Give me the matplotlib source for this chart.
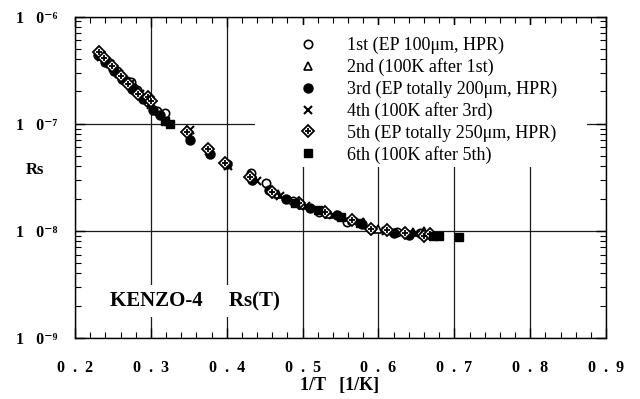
import math
import matplotlib
matplotlib.use("Agg")
import matplotlib.pyplot as plt
import matplotlib.ticker as mticker
from matplotlib.patches import Rectangle

plt.rcParams["font.family"] = ["Liberation Serif", "DejaVu Serif"]
plt.rcParams["mathtext.fontset"] = "stix"

# 1st (EP 100um, HPR)
x1 = [0.232, 0.243, 0.255, 0.268, 0.274, 0.282, 0.296, 0.308, 0.318, 0.432, 0.452, 0.487, 0.522, 0.558, 0.590, 0.625, 0.655]
rs1 = [4.6e-7, 3.8e-7, 3.1e-7, 2.5e-7, 2.45e-7, 2.05e-7, 1.6e-7, 1.3e-7, 1.25e-7, 3.5e-8, 2.8e-8, 1.9e-8, 1.5e-8, 1.21e-8, 1.05e-8, 9.8e-9, 9.5e-9]
# 2nd (100K after 1st)
x2 = [0.236, 0.250, 0.265, 0.280, 0.300, 0.349, 0.468, 0.500, 0.535, 0.565, 0.600, 0.645, 0.660]
rs2 = [4.3e-7, 3.4e-7, 2.7e-7, 2.15e-7, 1.55e-7, 8.6e-8, 2.2e-8, 1.75e-8, 1.45e-8, 1.25e-8, 1.05e-8, 9.8e-9, 1.0e-8]
# 3rd (EP totally 200um, HPR)
x3 = [0.230, 0.240, 0.252, 0.262, 0.275, 0.290, 0.303, 0.312, 0.352, 0.378, 0.400, 0.433, 0.456, 0.478, 0.510, 0.545, 0.578, 0.620, 0.640]
rs3 = [4.4e-7, 3.75e-7, 3.1e-7, 2.6e-7, 2.1e-7, 1.7e-7, 1.35e-7, 1.2e-7, 7.0e-8, 5.2e-8, 4.2e-8, 3.0e-8, 2.4e-8, 2.0e-8, 1.65e-8, 1.4e-8, 1.15e-8, 9.6e-9, 9.2e-9]
# 4th (100K after 3rd)
x4 = [0.234, 0.246, 0.258, 0.272, 0.286, 0.300, 0.351, 0.377, 0.402, 0.440, 0.470, 0.505, 0.540, 0.575, 0.610, 0.650]
rs4 = [4.2e-7, 3.6e-7, 2.9e-7, 2.35e-7, 1.9e-7, 1.5e-7, 8.8e-8, 5.6e-8, 4.0e-8, 2.9e-8, 2.1e-8, 1.7e-8, 1.42e-8, 1.2e-8, 1.0e-8, 9.4e-9]
# 5th (EP totally 250um, HPR)
x5 = [0.231, 0.238, 0.249, 0.260, 0.270, 0.283, 0.296, 0.300, 0.348, 0.375, 0.398, 0.430, 0.460, 0.495, 0.530, 0.565, 0.590, 0.611, 0.635, 0.660, 0.668]
rs5 = [4.7e-7, 4.1e-7, 3.45e-7, 2.8e-7, 2.35e-7, 1.9e-7, 1.78e-7, 1.62e-7, 8.4e-8, 5.8e-8, 4.3e-8, 3.2e-8, 2.3e-8, 1.8e-8, 1.5e-8, 1.25e-8, 1.05e-8, 1.02e-8, 9.5e-9, 9.0e-9, 9.4e-9]
# 6th (100K after 5th)
x6 = [0.318, 0.325, 0.490, 0.520, 0.550, 0.575, 0.672, 0.680, 0.706]
rs6 = [1.05e-7, 1.0e-7, 1.8e-8, 1.55e-8, 1.35e-8, 1.18e-8, 9.0e-9, 9.0e-9, 8.7e-9]

labels = ["1st (EP 100\u03bcm, HPR)", "2nd (100K after 1st)", "3rd (EP totally 200\u03bcm, HPR)",
          "4th (100K after 3rd)", "5th (EP totally 250\u03bcm, HPR)", "6th (100K after 5th)"]

x_ticks = [0.2, 0.3, 0.4, 0.5, 0.6, 0.7, 0.8, 0.9]
y_ticks = [1e-9, 1e-8, 1e-7, 1e-6]
sup = {"-": "\u207b", "6": "\u2076", "7": "\u2077", "8": "\u2078", "9": "\u2079"}

fig = plt.figure(figsize=(6.4, 3.99), dpi=100)
ax = fig.add_axes([0.1172, 0.1529, 0.8298, 0.8057])

ms = 6
h1, = ax.plot(x1, rs1, "o", ms=ms, mfc="white", mec="black", mew=1.2, ls="none", zorder=3)
h2, = ax.plot(x2, rs2, "^", ms=ms, mfc="white", mec="black", mew=1.2, ls="none", zorder=3)
h3, = ax.plot(x3, rs3, "o", ms=ms + 0.5, mfc="black", mec="black", ls="none", zorder=3)
h4, = ax.plot(x4, rs4, "x", ms=ms - 0.5, mec="black", mew=1.5, ls="none", zorder=3)
h5a, = ax.plot(x5, rs5, "D", ms=ms, mfc="white", mec="black", mew=1.3, ls="none", zorder=3)
h5b, = ax.plot(x5, rs5, "+", ms=ms - 1, mec="black", mew=1.3, ls="none", zorder=3)
h6, = ax.plot(x6, rs6, "s", ms=ms, mfc="black", mec="black", ls="none", zorder=3)

ax.set_yscale("log")
ax.set_xlim(0.2, 0.9)
ax.set_ylim(1e-9, 1e-6)


def ylab(v, p):
    e = str(round(math.log10(v)))
    return "1   0" + "".join(sup[c] for c in e)


ax.xaxis.set_major_locator(mticker.FixedLocator(x_ticks))
ax.xaxis.set_minor_locator(mticker.MultipleLocator(0.02))
ax.xaxis.set_major_formatter(mticker.FuncFormatter(lambda v, p: "  ".join(f"{v:.1f}")))
ax.yaxis.set_major_locator(mticker.FixedLocator(y_ticks))
ax.yaxis.set_minor_locator(mticker.LogLocator(base=10, subs=range(2, 10)))
ax.yaxis.set_minor_formatter(mticker.NullFormatter())
ax.yaxis.set_major_formatter(mticker.FuncFormatter(ylab))

ax.tick_params(which="both", direction="in", top=True, right=True, colors="black")
ax.tick_params(which="major", length=7, width=1)
ax.tick_params(which="minor", length=4, width=0.8)
ax.tick_params(axis="x", which="major", pad=16, labelsize=11.5)
ax.tick_params(axis="y", which="major", pad=13, labelsize=11.5)
for lab in ax.get_xticklabels() + ax.get_yticklabels():
    lab.set_fontweight("bold")

ax.grid(True, which="major", color="#1a1a1a", lw=0.9)
ax.set_axisbelow(True)
for s in ax.spines.values():
    s.set_linewidth(1.0)

# blank area behind the legend
ax.add_patch(Rectangle((0.339, 0.532), 0.625, 0.442, transform=ax.transAxes,
                       facecolor="white", edgecolor="none", zorder=1.5))

leg = ax.legend([h1, h2, h3, h4, (h5a, h5b), h6], labels, loc="upper left",
                bbox_to_anchor=(0.419, 0.936), frameon=False, fontsize=13,
                handlelength=1.2, handletextpad=1.55, labelspacing=0.23,
                borderpad=0, borderaxespad=0)

ax.text(0.066, 0.115, "KENZO-4     Rs(T)", transform=ax.transAxes, fontsize=15,
        fontweight="bold", ha="left", va="center", zorder=2,
        bbox=dict(facecolor="white", edgecolor="none", pad=4))

fig.text(0.055, 0.575, "Rs", fontsize=12, fontweight="bold", ha="center", va="center")
fig.text(0.531, 0.035, "1/T   [1/K]", fontsize=13, fontweight="bold", ha="center", va="center")

fig.savefig("out.png", dpi=100)
